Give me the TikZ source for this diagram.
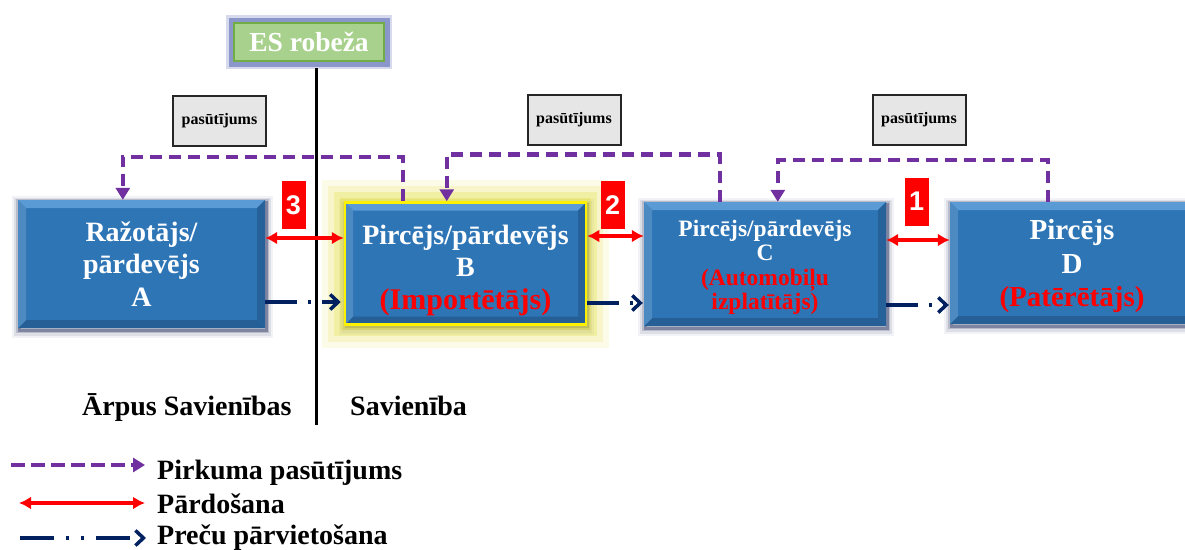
\documentclass[tikz,border=0pt]{standalone}
\usepackage{fontspec}
\setmainfont{Liberation Serif}
\newfontfamily\numfont{Liberation Sans}
\usetikzlibrary{arrows.meta,calc}

\definecolor{boxblue}{HTML}{2E75B6}
\definecolor{bevellight}{HTML}{5B9BD5}
\definecolor{beveldark}{HTML}{255F96}
\definecolor{haze}{HTML}{26315E}
\definecolor{orderpurple}{HTML}{7030A0}
\definecolor{goodsnavy}{HTML}{002060}
\definecolor{esgreen}{HTML}{A9D18E}
\definecolor{esborder}{HTML}{70AD47}
\definecolor{esglow}{HTML}{5A6AB4}
\definecolor{notegray}{HTML}{E6E6E6}
\definecolor{glowyellow}{HTML}{E2DC3C}

\tikzset{
  % blue bevelled party box with a soft shadow
  party/.style={
    rectangle, fill=boxblue, text=white, align=center,
    font=\bfseries,
    preaction={draw=haze, line width=14pt, draw opacity=0.06, transform canvas={shift={(1pt,-3pt)}}},
    preaction={draw=haze, line width=10pt, draw opacity=0.10, transform canvas={shift={(1pt,-3pt)}}},
    preaction={draw=haze, line width=6pt, draw opacity=0.20, transform canvas={shift={(1pt,-2pt)}}},
    preaction={draw=haze, line width=3pt, draw opacity=0.40, transform canvas={shift={(1pt,-2pt)}}},
    path picture={
      \fill[bevellight]
        (path picture bounding box.north west) -- (path picture bounding box.north east)
        -- ([xshift=-8pt,yshift=-8pt]path picture bounding box.north east)
        -- ([xshift=8pt,yshift=-8pt]path picture bounding box.north west) -- cycle;
      \fill[beveldark]
        (path picture bounding box.south west) -- (path picture bounding box.south east)
        -- ([xshift=-8pt,yshift=8pt]path picture bounding box.south east)
        -- ([xshift=8pt,yshift=8pt]path picture bounding box.south west) -- cycle;
      \fill[boxblue!85!white]
        (path picture bounding box.north west) -- ([xshift=8pt,yshift=-8pt]path picture bounding box.north west)
        -- ([xshift=8pt,yshift=8pt]path picture bounding box.south west)
        -- (path picture bounding box.south west) -- cycle;
      \fill[beveldark!90!boxblue]
        (path picture bounding box.north east) -- ([xshift=-8pt,yshift=-8pt]path picture bounding box.north east)
        -- ([xshift=-8pt,yshift=8pt]path picture bounding box.south east)
        -- (path picture bounding box.south east) -- cycle;
    }
  },
  importer/.style={
    preaction={draw=glowyellow, line width=46pt, draw opacity=0.12, rounded corners=12pt},
    preaction={draw=glowyellow, line width=34pt, draw opacity=0.18, rounded corners=8pt},
    preaction={draw=glowyellow, line width=22pt, draw opacity=0.26, rounded corners=4pt},
    preaction={draw=glowyellow, line width=10pt, draw opacity=0.35},
    draw=yellow, line width=2.5pt
  },
  note/.style={rectangle, draw=black!85, line width=2pt, fill=notegray,
    font=\bfseries\fontsize{16}{18}\selectfont, minimum width=93pt, minimum height=50pt},
  tag/.style={rectangle, fill=red, text=white, font=\numfont\bfseries\fontsize{27}{30}\selectfont,
    minimum width=24pt, minimum height=48pt, inner sep=0pt},
  order/.style={draw=orderpurple, line width=4.5pt, dash pattern=on 12pt off 7pt,
    -{Triangle[length=12pt,width=14pt]}},
  sale/.style={draw=red, line width=3.2pt, {Latex[length=12pt,width=13pt]}-{Latex[length=12pt,width=13pt]}},
  goods/.style={draw=goodsnavy, line width=3.5pt, dash pattern=on 32pt off 11pt on 3pt off 11pt,
    -{Straight Barb[length=8pt,width=15pt]}},
  plain/.style={font=\bfseries\fontsize{28}{32}\selectfont, inner sep=0pt}
}

\begin{document}
\begin{tikzpicture}[x=1pt,y=-1pt]
\useasboundingbox (0,0) rectangle (1185,549);

% border label and border line
\node[rectangle, fill=esgreen, draw=esborder, line width=2pt,
      preaction={draw=esglow, line width=16pt, draw opacity=0.25, rounded corners=6pt},
      preaction={draw=esglow, line width=11pt, draw opacity=0.6, rounded corners=4pt},
      minimum width=150pt, minimum height=38pt, text=white,
      font=\bfseries\fontsize{27.5}{29}\selectfont] (es) at (309,42) {ES robeža};
\coordinate (lineTop) at (316,68);
\coordinate (lineBot) at (316,425);
\draw[line width=3pt] (lineTop) -- (lineBot);

% parties
\node[party, minimum width=247pt, minimum height=128pt,
      font=\bfseries\fontsize{28}{32.5}\selectfont] (A) at (141.5,264)
  {Ražotājs/\\pārdevējs\\A};
\node[party, importer, minimum width=241pt, minimum height=122pt,
      font=\bfseries\fontsize{28}{32.5}\selectfont] (B) at (465.5,263.5)
  {\rule{0pt}{33pt}Pircējs/pārdevējs\\B\\{\color{red}\fontsize{30}{32.5}\selectfont(Importētājs)}};
\node[party, minimum width=242pt, minimum height=124pt,
      font=\bfseries\fontsize{23.5}{24.5}\selectfont] (C) at (765,264)
  {\rule{0pt}{23pt}Pircējs/pārdevējs\\C\\{\color{red}(Automobiļu}\\{\color{red}izplatītājs)}};
\node[party, minimum width=244pt, minimum height=122pt,
      font=\bfseries\fontsize{29}{33.5}\selectfont] (D) at (1072,263)
  {\rule{0pt}{27pt}Pircējs\\D\\{\color{red}(Patērētājs)}};

% order notes
\node[note] (n1) at (219.5,121) {pasūtījums};
\node[note] (n2) at (574,120) {pasūtījums};
\node[note] (n3) at (919,120) {pasūtījums};

% purchase orders
\draw[order] ($(B.north west)+(59,0)$) |- ($(A.north west)+(105,-43)$) -- ($(A.north west)+(105,0)$);
\draw[order] ($(C.north west)+(76,0)$) |- ($(B.north west)+(103,-47)$) -- ($(B.north west)+(103,0)$);
\draw[order] ($(D.north west)+(98,0)$) |- ($(C.north west)+(134,-42)$) -- ($(C.north west)+(134,0)$);

% sales
\coordinate (s3) at ([yshift=26pt]A.east);
\coordinate (s2) at ([yshift=27.5pt]B.east);
\coordinate (s1) at ([yshift=24pt]C.east);
\draw[sale] (s3) -- (s3 -| B.west);
\draw[sale] (s2) -- (s2 -| C.west);
\draw[sale] (s1) -- (s1 -| D.west);

\node[tag] (t3) at (293.5,205) {3};
\node[tag] (t2) at (612.5,205) {2};
\node[tag] (t1) at (916.5,201.5) {1};

% goods flow
\coordinate (g3) at ([yshift=-38pt]A.east);
\coordinate (g2) at ([yshift=-39.5pt]B.east);
\coordinate (g1) at ([yshift=-41pt]C.east);
\draw[goods] (g3) -- ([xshift=-3pt]g3 -| B.west);
\draw[goods] (g2) -- ([xshift=-1pt]g2 -| C.west);
\draw[goods] (g1) -- ([xshift=-1pt]g1 -| D.west);

% territory labels
\node[plain, anchor=base west] (outside) at (82,415) {Ārpus Savienības};
\node[plain, anchor=base west] (inside) at (350,415) {Savienība};

% legend
\coordinate (k1a) at (11,465);  \coordinate (k1b) at (145,465);
\coordinate (k2a) at (19,503);  \coordinate (k2b) at (145,503);
\coordinate (k3a) at (20,538);  \coordinate (k3b) at (146,538);
\draw[order, dash pattern=on 14pt off 6pt] (k1a) -- (k1b);
\draw[sale] (k2a) -- (k2b);
\draw[goods, dash pattern=on 34pt off 12pt on 3pt off 12pt on 3pt off 12pt] (k3a) -- (k3b);
\node[plain, anchor=base west] (l1) at (157,479) {Pirkuma pasūtījums};
\node[plain, anchor=base west] (l2) at (157,513) {Pārdošana};
\node[plain, anchor=base west] (l3) at (157,544) {Preču pārvietošana};
\end{tikzpicture}
\end{document}
